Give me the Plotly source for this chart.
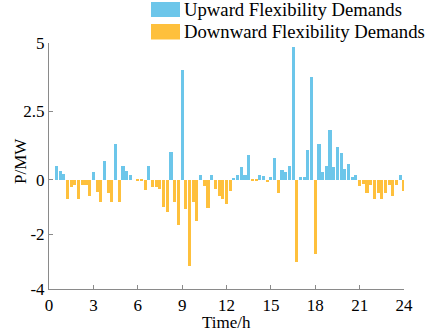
import plotly.graph_objects as go

# Time axis: 96 fifteen-minute intervals (hours)
time_h = [0.25 * k for k in range(1, 97)]

# Upward flexibility demands (MW), one value per interval
upward = [
    0, 0.5, 0.3, 0.2, 0, 0, 0, 0, 0, 0, 0, 0.28,
    0, 0, 0.7, 0, 0, 1.3, 0, 0.49, 0.3, 0.18, 0, 0,
    0, 0, 0.49, 0, 0, 0, 0, 0, 1.0, 0, 0, 4.0,
    0, 0, 0, 0, 0.18, 0, 0, 0.18, 0, 0, 0, 0,
    0, 0.06, 0.18, 0.48, 0.18, 0.9, 0, 0, 0.18, 0.12, 0, 0.08,
    0.8, 0, 0.37, 0.29, 0.49, 4.84, 0, 0.08, 0.08, 1.1, 3.74, 0,
    1.3, 0.28, 0.49, 1.82, 0.48, 1.18, 0.98, 0.39, 0.57, 0.08, 0.18, 0,
    0, 0, 0, 0, 0, 0, 0, 0, 0, 0, 0.18, 0,
]

# Downward flexibility demands (MW), one value per interval
downward = [
    0, 0, 0, 0, -0.7, -0.25, -0.2, -0.7, -0.2, -0.2, -0.58, 0,
    -0.45, -0.8, 0, -0.5, -0.8, 0, -0.8, 0, 0, 0, 0, -0.06,
    -0.06, -0.38, 0, -0.28, -0.28, -0.35, -1.0, -1.2, 0, -0.8, -1.65, 0,
    -1.07, -3.15, -0.8, -1.5, 0, -0.22, -1.05, 0, -0.35, -0.6, -0.7, -0.9,
    -0.4, 0, 0, 0, 0, 0, -0.06, -0.04, 0, 0, -0.1, 0,
    0, -0.5, 0, 0, 0, 0, -3.02, 0, 0, 0, 0, -2.72,
    0, 0, 0, 0, 0, 0, 0, 0, 0, 0, 0, -0.22,
    -0.16, -0.49, -0.18, -0.7, -0.49, -0.7, -0.49, -0.18, -0.58, -0.18, 0, -0.4,
]

x_ticks = [0, 3, 6, 9, 12, 15, 18, 21, 24]
y_ticks = [-4, -2, 0, 2.5, 5]
y_tick_labels = ["-4", "-2", "0", "2.5", "5"]

series_names = ["Upward Flexibility Demands", "Downward Flexibility Demands"]
blue = "#6CC6EA"
orange = "#FEC03C"
axis_grey = "#8a8a8a"
FONT = "Liberation Serif"

fig = go.Figure()
fig.add_trace(go.Bar(x=time_h, y=upward, width=0.21, marker=dict(color=blue, line_width=0),
                     name=series_names[0], showlegend=False))
fig.add_trace(go.Bar(x=time_h, y=downward, width=0.21, marker=dict(color=orange, line_width=0),
                     name=series_names[1], showlegend=False))

# Legend drawn as swatches + text
W, L = 355.0, 49.0
H, B = 246.0, 289.0
def px(xp):
    return (xp - L) / W
def py(yp):
    return (B - yp) / H

for (y0, y1), col, name in [((2, 17), blue, series_names[0]), ((24, 39.5), orange, series_names[1])]:
    fig.add_shape(type="rect", xref="paper", yref="paper",
                  x0=px(151), x1=px(180), y0=py(y1), y1=py(y0),
                  fillcolor=col, line_width=0)
    fig.add_annotation(xref="paper", yref="paper", x=px(182), y=py((y0 + y1) / 2),
                       xanchor="left", yanchor="middle", text=name, showarrow=False,
                       font=dict(family=FONT, size=18.7, color="black"))

# axis titles as annotations for exact placement
fig.add_annotation(xref="paper", yref="paper", x=0.5, y=py(322.5), xanchor="center",
                   yanchor="middle", text="Time/h", showarrow=False,
                   font=dict(family=FONT, size=17, color="black"))
fig.add_annotation(xref="paper", yref="paper", x=px(20), y=py(161), xanchor="center",
                   yanchor="middle", text="P/MW", showarrow=False, textangle=-90,
                   font=dict(family=FONT, size=17, color="black"))

fig.update_layout(
    width=429, height=331,
    margin=dict(l=49, r=25, t=43, b=42),
    paper_bgcolor="white", plot_bgcolor="white",
    barmode="overlay", bargap=0,
    font=dict(family=FONT, size=17, color="black"),
    showlegend=False,
)
fig.update_xaxes(range=[0, 24], tickvals=x_ticks, ticks="inside", ticklen=4,
                 tickcolor=axis_grey, showline=True, linecolor=axis_grey, linewidth=1,
                 showgrid=False, zeroline=False, automargin=False, ticklabelstandoff=1,
                 tickfont=dict(family=FONT, size=17, color="black"))
fig.update_yaxes(range=[-4, 5], tickvals=y_ticks, ticktext=y_tick_labels, ticks="inside",
                 ticklen=4, tickcolor=axis_grey, showline=True, linecolor=axis_grey,
                 linewidth=1, showgrid=False, zeroline=False, automargin=False,
                 tickfont=dict(family=FONT, size=17, color="black"))

fig.write_html("out.html", config={"displayModeBar": False},
               post_script="document.body.style.margin='0px';document.body.style.overflow='hidden';")
